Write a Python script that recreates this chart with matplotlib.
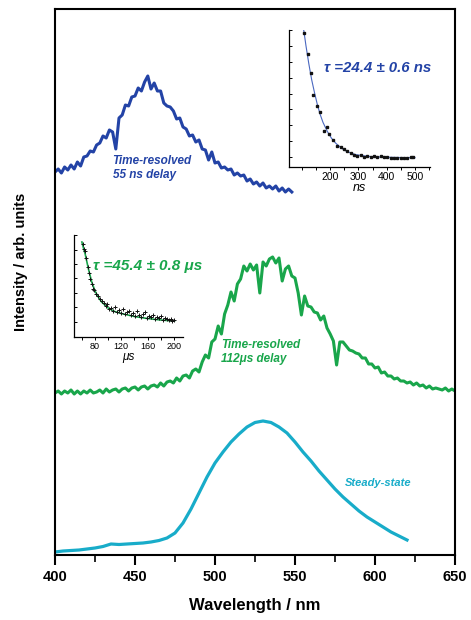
import numpy as np
import matplotlib
matplotlib.use('agg')
import matplotlib.pyplot as plt
from matplotlib.ticker import MultipleLocator, NullFormatter

plt.rcParams['font.family'] = ['Liberation Sans', 'DejaVu Sans']

# main spectra (arb. units)
wl_blue = np.arange(400, 549, 2)
int_blue = [383, 386, 382, 388, 385, 390, 386, 393, 389, 398,
            399, 404, 403, 410, 412, 419, 417, 425, 423, 406,
            437, 440, 450, 449, 458, 459, 467, 464, 473, 479,
            466, 472, 464, 464, 452, 449, 448, 444, 436, 437,
            428, 426, 419, 420, 413, 415, 406, 405, 395, 403,
            392, 393, 387, 388, 385, 386, 380, 382, 379, 380,
            374, 376, 371, 373, 369, 372, 367, 369, 366, 369,
            364, 367, 363, 366, 363]

wl_green = np.arange(400, 651, 2)
int_green = [162, 164, 161, 164, 162, 165, 161, 164, 161, 164,
             162, 165, 162, 163, 165, 162, 166, 163, 165, 166,
             163, 166, 167, 164, 167, 168, 165, 168, 169, 166,
             169, 170, 168, 172, 169, 173, 174, 172, 177, 174,
             179, 180, 177, 184, 186, 183, 193, 200, 197, 213,
             216, 229, 221, 241, 250, 263, 254, 271, 276, 289,
             284, 291, 285, 290, 262, 293, 289, 296, 298, 292,
             297, 274, 286, 289, 279, 277, 262, 240, 259, 249,
             248, 243, 242, 235, 239, 227, 221, 214, 190, 213,
             213, 209, 205, 204, 202, 201, 197, 197, 191, 191,
             187, 188, 182, 183, 179, 179, 176, 177, 174, 174,
             172, 173, 170, 172, 169, 170, 167, 169, 166, 167,
             166, 165, 167, 164, 166, 164]

wl_cyan = np.arange(400, 621, 5)
int_cyan = [3, 4, 4.5, 5, 6, 7, 8.5, 11, 10.5, 11,
            11.5, 12, 13, 14.5, 17, 22, 32, 46, 62, 78,
            92, 103, 113, 121, 128, 132.5, 134, 132.5, 128, 122,
            113, 103, 94, 84, 75, 66, 58, 51, 44, 38,
            33, 28, 23, 19, 15]

# ns decay inset
t_ns = [109, 121, 131, 141, 154, 166, 178, 189, 198, 211,
        226, 238, 249, 261, 273, 284, 296, 308, 320, 331,
        343, 355, 367, 379, 390, 402, 414, 426, 437, 449,
        461, 473, 485, 494]
dec_ns = [135.3, 114.3, 94.3, 72.7, 61.0, 55.0, 36.0, 40.3, 33.7, 27.7,
          21.3, 19.7, 18.3, 16.3, 13.7, 12.0, 11.0, 11.7, 10.3, 11.3,
          10.3, 11.0, 10.3, 11.3, 10.3, 9.7, 9.3, 9.3, 9.3, 9.3,
          9.3, 9.3, 9.7, 9.7]
t_ns_fit = [105, 115, 125, 135, 145, 155, 165, 175, 190, 205,
            220, 240, 260, 290, 330, 380, 440, 500]
fit_ns = [142, 122, 104, 88, 75, 63, 53, 45, 36, 29,
          24, 19, 15.5, 12.5, 10.8, 10, 9.6, 9.4]

# us decay inset
t_us = [61, 63, 65, 67, 69, 71, 73, 75, 77, 79,
        81, 84, 87, 90, 93, 96, 99, 102, 105, 108,
        111, 114, 117, 120, 123, 126, 129, 132, 135, 138,
        141, 144, 147, 150, 153, 156, 159, 162, 165, 168,
        171, 174, 177, 180, 183, 186, 189, 192, 195, 198, 201]
dec_us = [93, 88, 86, 79, 70, 64, 58, 53, 48, 47,
          43, 41, 38, 36, 34, 31, 33, 28, 29, 26,
          30, 25, 27, 24, 28, 23, 25, 26, 22, 24,
          21, 26, 22, 20, 23, 25, 19, 21, 20, 22,
          18, 20, 19, 21, 17, 19, 18, 17, 18, 16, 17]
t_us_fit = [60, 62, 65, 70, 75, 80, 85, 90, 100, 110,
            120, 130, 140, 150, 160, 170, 180, 190, 201]
fit_us = [95, 90, 83, 68, 55, 46, 40, 35, 29, 25.5,
          23.5, 22, 20.5, 19.5, 18.5, 17.7, 17, 16.5, 16]

BLUE = '#2343a6'
GREEN = '#19a64b'
CYAN = '#18acc9'

fig = plt.figure(figsize=(4.71, 6.2), dpi=100)
ax = fig.add_axes([55/471, 65/620, 400/471, 546/620])
ax.plot(wl_blue, int_blue, color=BLUE, lw=2.2)
ax.plot(wl_green, int_green, color=GREEN, lw=2.2)
ax.plot(wl_cyan, int_cyan, color=CYAN, lw=2.3)
ax.set_xlim(400, 650)
ax.set_ylim(0, 546)
ax.set_yticks([])
ax.xaxis.set_major_locator(MultipleLocator(50))
ax.xaxis.set_minor_locator(MultipleLocator(25))
ax.tick_params(axis='x', which='major', direction='out', length=7, width=1.5,
               labelsize=10.5, pad=4)
ax.tick_params(axis='x', which='minor', direction='out', length=5, width=1.2)
for lab in ax.get_xticklabels():
    lab.set_fontweight('bold')
for sp in ax.spines.values():
    sp.set_linewidth(1.5)
ax.set_xlabel('Wavelength / nm', fontsize=12, fontweight='bold', labelpad=10)
fig.text(21/471, 1 - 262/620, 'Intensity / arb. units', rotation=90,
         fontsize=10.5, fontweight='bold', ha='center', va='center')

ax.text(436, 387, 'Time-resolved\n55 ns delay', color=BLUE, fontsize=8.5,
        style='italic', fontweight='bold', linespacing=1.3, va='center')
ax.text(504, 203, 'Time-resolved\n112\u03bcs delay', color=GREEN, fontsize=8.5,
        style='italic', fontweight='bold', linespacing=1.3, va='center')
ax.text(581, 72, 'Steady-state', color=CYAN, fontsize=8,
        style='italic', fontweight='bold', va='center')

# ns inset
ax1 = fig.add_axes([289/471, (620-167)/620, 141/471, 137/620])
ax1.set_facecolor('none')
ax1.plot(t_ns_fit, fit_ns, color='#4a68c0', lw=0.8)
ax1.plot(t_ns, dec_ns, 's', color='#111111', ms=2)
ax1.set_xlim(55, 553)
ax1.set_ylim(0, 137)
ax1.spines['top'].set_visible(False)
ax1.spines['right'].set_visible(False)
for sp in ax1.spines.values():
    sp.set_linewidth(0.9)
ax1.set_xticks([200, 300, 400, 500])
ax1.xaxis.set_minor_locator(MultipleLocator(50))
ax1.set_yticks(np.arange(10, 140, 16))
ax1.yaxis.set_major_formatter(NullFormatter())
ax1.tick_params(axis='x', which='both', direction='out', length=2, width=0.7,
                labelsize=7.5, pad=1.5)
ax1.tick_params(axis='y', direction='in', length=2, width=0.7)
ax1.set_xlabel('ns', fontsize=9, style='italic', labelpad=0)
ax1.text(0.245, 0.72, '\u03c4 =24.4 \u00b1 0.6 ns', transform=ax1.transAxes,
         color=BLUE, fontsize=10.8, style='italic', fontweight='bold', va='center')

# us inset
ax2 = fig.add_axes([74/471, (620-337)/620, 109/471, 102/620])
ax2.set_facecolor('none')
ax2.plot(t_us_fit, fit_us, color=GREEN, lw=1.2)
ax2.plot(t_us, dec_us, '+', color='#111111', ms=3, mew=0.7)
ax2.set_xlim(48, 214)
ax2.set_ylim(0, 102)
ax2.spines['top'].set_visible(False)
ax2.spines['right'].set_visible(False)
for sp in ax2.spines.values():
    sp.set_linewidth(0.9)
ax2.set_xticks([80, 120, 160, 200])
ax2.xaxis.set_minor_locator(MultipleLocator(20))
ax2.set_yticks(np.arange(15.5, 103, 14.4))
ax2.yaxis.set_major_formatter(NullFormatter())
ax2.tick_params(axis='x', which='both', direction='out', length=2, width=0.7,
                labelsize=6.5, pad=1.5)
ax2.tick_params(axis='y', direction='in', length=2, width=0.7)
ax2.set_xlabel('\u03bcs', fontsize=8.5, style='italic', labelpad=0)
ax2.text(0.17, 0.70, '\u03c4 =45.4 \u00b1 0.8 \u03bcs', transform=ax2.transAxes,
         color=GREEN, fontsize=11, style='italic', fontweight='bold', va='center')

fig.savefig('out.png', dpi=100)
